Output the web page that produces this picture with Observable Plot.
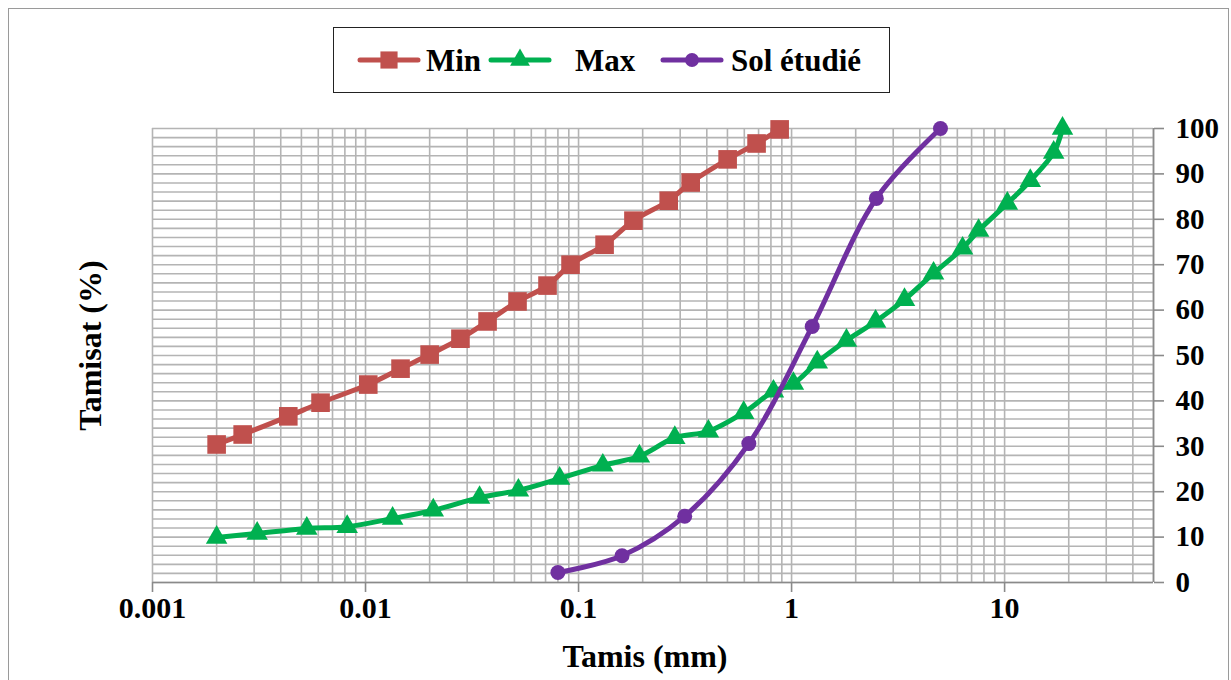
<!DOCTYPE html>
<html>
<head>
<meta charset="utf-8">
<script src="https://cdn.jsdelivr.net/npm/d3@7"></script>
<script src="https://cdn.jsdelivr.net/npm/@observablehq/plot@0.6"></script>
<style>
  html, body { margin: 0; padding: 0; background: #fff; }
  #wrap { position: relative; width: 1231px; height: 680px; overflow: hidden; background: #fff; }
  #chart svg { position: absolute; left: 0; top: 0; }
  #frame { position: absolute; left: 8px; top: 8px; width: 1219px; height: 700px; border: 1px solid #9a9a9a; pointer-events: none; }
  #legend { position: absolute; left: 333px; top: 27px; width: 555px; height: 64px; border: 1.5px solid #222; background: #fff; }
</style>
</head>
<body>
<div id="wrap">
  <div id="chart"></div>
  <div id="frame"></div>
  <div id="legend"></div>
</div>
<script>
// ---- data ----
const xTicks = [0.001, 0.01, 0.1, 1, 10];
const yTicks = [0, 10, 20, 30, 40, 50, 60, 70, 80, 90, 100];

const minSize = [0.002, 0.00265, 0.00434, 0.00615, 0.0103, 0.0146, 0.02, 0.0279, 0.0374, 0.0517, 0.0715, 0.0917, 0.1325, 0.181, 0.265, 0.336, 0.501, 0.685, 0.879];
const minPass = [30.4, 32.6, 36.6, 39.6, 43.6, 47.1, 50.2, 53.7, 57.5, 61.9, 65.4, 70.0, 74.4, 79.7, 84.1, 88.1, 93.2, 96.7, 99.8];

const maxSize = [0.002, 0.0031, 0.0053, 0.0082, 0.0134, 0.0208, 0.0343, 0.0522, 0.0815, 0.130, 0.193, 0.283, 0.407, 0.596, 0.822, 1.02, 1.32, 1.81, 2.48, 3.39, 4.64, 6.35, 7.55, 10.3, 13.2, 17.0, 18.7];
const maxPass = [9.9, 10.8, 11.9, 12.3, 14.1, 15.9, 18.7, 20.3, 22.9, 25.8, 27.8, 31.9, 33.3, 37.4, 42.1, 43.8, 48.5, 53.3, 57.5, 62.3, 68.1, 73.6, 77.5, 83.5, 88.5, 94.7, 100];

const solSize = [0.08, 0.16, 0.315, 0.63, 1.25, 2.5, 5];
const solPass = [2.2, 5.9, 14.6, 30.6, 56.4, 84.6, 100];

const seriesNames = ["Min", "Max", "Sol étudié"];
const seriesColors = ["#C0504D", "#00B050", "#7030A0"];
const seriesSymbols = ["square", "triangle", "circle"];

// gridline positions (log minor ticks, 2% steps)
const xGrid = [];
for (let e = -3; e <= 1; e++) for (let m = 1; m <= 9; m++) { const v = m * Math.pow(10, e); if (v <= 50.0001) xGrid.push(+v.toPrecision(3)); }
const yGrid = d3.range(0, 101, 2);

const minData = minSize.map((s, i) => ({size: s, pass: minPass[i]}));
const maxData = maxSize.map((s, i) => ({size: s, pass: maxPass[i]}));
const solData = solSize.map((s, i) => ({size: s, pass: solPass[i]}));

const font = "'Liberation Serif', 'Times New Roman', serif";

const plot = Plot.plot({
  width: 1231,
  height: 680,
  marginLeft: 152,
  marginRight: 78,
  marginTop: 128,
  marginBottom: 98,
  x: {type: "log", domain: [0.001, 50]},
  y: {domain: [0, 100]},
  style: {fontFamily: font, fontWeight: "bold", color: "#000", background: "transparent", overflow: "visible"},
  marks: [
    Plot.ruleX(xGrid, {x: d => d, stroke: "#b4b4b4", strokeWidth: 1.6}),
    Plot.ruleY(yGrid, {y: d => d, stroke: "#b4b4b4", strokeWidth: 1.6}),
    Plot.ruleY([0], {y: d => d, stroke: "#8a8a8a", strokeWidth: 1.6}),
    Plot.ruleX([50], {x: d => d, stroke: "#8a8a8a", strokeWidth: 1.6}),
    Plot.axisX(xTicks, {anchor: "bottom", tickSize: 10, tickPadding: 4, tickFormat: d => String(d), fontSize: 30, stroke: "#8a8a8a", strokeWidth: 1.6, label: null}),
    Plot.axisY(yTicks, {anchor: "right", tickSize: 10, tickPadding: 12, fontSize: 29, stroke: "#8a8a8a", strokeWidth: 1.6, label: null}),
    Plot.line(minData, {x: "size", y: "pass", stroke: seriesColors[0], strokeWidth: 5, curve: "catmull-rom"}),
    Plot.dot(minData, {x: "size", y: "pass", symbol: seriesSymbols[0], r: 10.5, fill: seriesColors[0]}),
    Plot.line(maxData, {x: "size", y: "pass", stroke: seriesColors[1], strokeWidth: 5, curve: "catmull-rom"}),
    Plot.dot(maxData, {x: "size", y: "pass", symbol: seriesSymbols[1], r: 8, fill: seriesColors[1]}),
    Plot.line(solData, {x: "size", y: "pass", stroke: seriesColors[2], strokeWidth: 5, curve: "catmull-rom"}),
    Plot.dot(solData, {x: "size", y: "pass", symbol: seriesSymbols[2], r: 7.5, fill: seriesColors[2]}),
    Plot.text(["Tamis (mm)"], {text: d => d, frameAnchor: "bottom", textAnchor: "middle", dx: -8, dy: 84, fontSize: 32, fill: "#000"}),
    Plot.text(["Tamisat (%)"], {text: d => d, frameAnchor: "left", textAnchor: "middle", dx: -62, dy: -10, rotate: -90, fontSize: 32, fill: "#000"})
  ]
});
document.getElementById("chart").appendChild(plot);

// ---- legend ----
const legendX = [{sw: 26, tx: 92}, {sw: 157, tx: 241}, {sw: 329, tx: 397}];
const lsvg = d3.select("#legend").append("svg").attr("width", 555).attr("height", 64)
  .style("font-family", font).style("font-weight", "bold");
const sym = {square: d3.symbolSquare, triangle: d3.symbolTriangle, circle: d3.symbolCircle};
const sizes = [10.5, 8, 7.5];
seriesNames.forEach((name, i) => {
  const g = lsvg.append("g");
  const p = legendX[i];
  g.append("line").attr("x1", p.sw).attr("x2", p.sw + 58).attr("y1", 32).attr("y2", 32)
    .attr("stroke", seriesColors[i]).attr("stroke-width", 5).attr("stroke-linecap", "round");
  g.append("path").attr("transform", `translate(${p.sw + 29},32)`)
    .attr("d", d3.symbol(sym[seriesSymbols[i]], Math.PI * sizes[i] * sizes[i] * 0.85)())
    .attr("fill", seriesColors[i]);
  g.append("text").attr("x", p.tx).attr("y", 43).attr("font-size", 31).attr("fill", "#000").text(name);
});
</script>
</body>
</html>
